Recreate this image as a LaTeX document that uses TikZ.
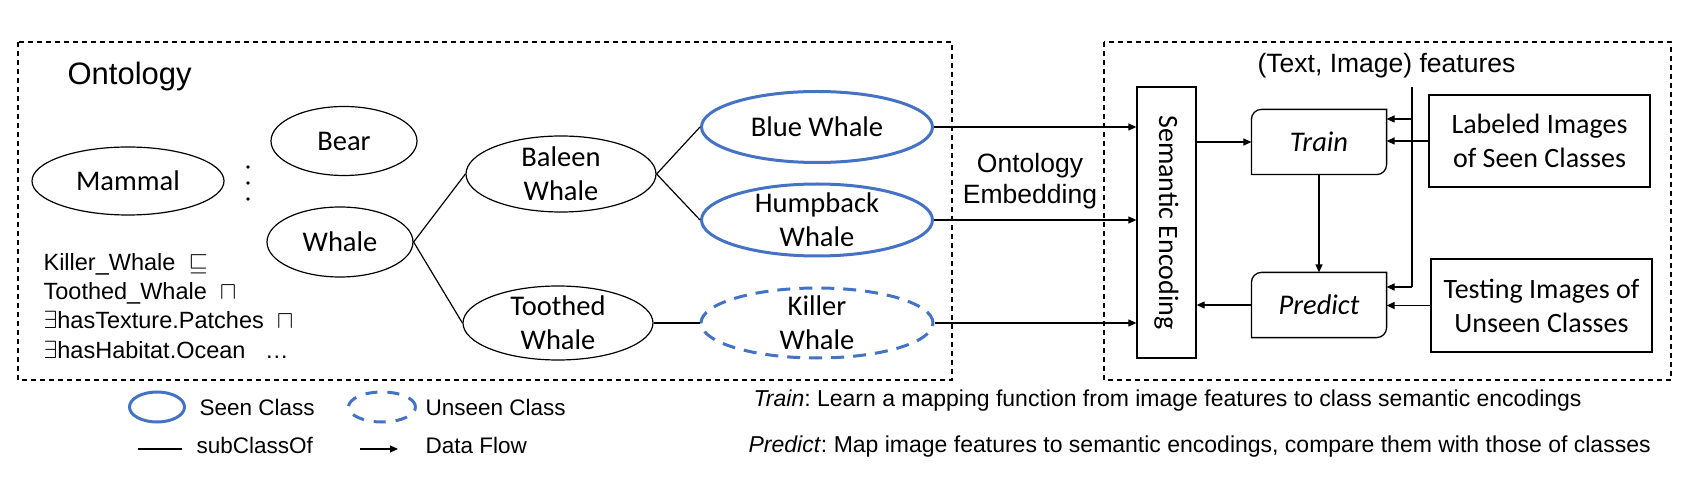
\documentclass[tikz,border=0pt]{standalone}
\usepackage{fontspec}
\usepackage{graphicx}
\setmainfont{Liberation Sans}
\newfontfamily\calibri{Carlito}
\usetikzlibrary{shapes.geometric,arrows.meta}
\definecolor{seenblue}{RGB}{68,114,196}
\frenchspacing
\begin{document}
\begin{tikzpicture}[x=1pt,y=1pt,
  line width=1.2pt,
  cls/.style={ellipse, draw, line width=1.2pt, inner xsep=0pt, inner ysep=-4pt, font=\calibri\fontsize{28.5}{34}\selectfont, align=center},
  seen/.style={cls, draw=seenblue, line width=3pt},
  unseen/.style={cls, draw=seenblue, line width=3pt, dash pattern=on 13pt off 9pt},
  sub/.style={line width=1.2pt},
  flow/.style={line width=1.2pt, -{Triangle[length=8pt,width=7pt]}},
  box/.style={rectangle, draw, line width=1.3pt, inner sep=0pt, font=\calibri\fontsize{28}{34}\selectfont, align=center},
  stepbox/.style={rectangle, inner sep=0pt, minimum width=134pt, minimum height=64pt, font=\calibri\itshape\fontsize{28.5}{34}\selectfont},
  frame/.style={draw, line width=1.2pt, dash pattern=on 5pt off 4pt},
  txt/.style={inner sep=0pt, anchor=base west},
]
\useasboundingbox (0,0) rectangle (1692,-494);

% frames
\draw[frame] (18,-42) rectangle (952,-380);
\draw[frame] (1104,-42) rectangle (1671,-380);

% ontology
\node[txt, font=\fontsize{31}{36}\selectfont] (ont) at (67,-85) {Ontology};
\node[cls, minimum width=192pt, minimum height=68pt] (mammal) at (128,-181) {Mammal};
\node[cls, minimum width=146pt, minimum height=69pt] (bear) at (344,-141) {Bear};
\node[cls, minimum width=146pt, minimum height=70pt] (whale) at (340,-242) {Whale};
\node[cls, minimum width=190pt, minimum height=76pt] (baleen) at (561,-174) {Baleen\\Whale};
\node[cls, minimum width=190pt, minimum height=74pt] (toothed) at (558,-323) {Toothed\\Whale};
\node[seen, minimum width=231pt, minimum height=71pt] (blue) at (817,-127) {Blue Whale};
\node[seen, minimum width=231pt, minimum height=72pt] (hump) at (817,-220) {Humpback\\Whale};
\node[unseen, minimum width=232pt, minimum height=70pt] (killer) at (817,-323) {Killer\\Whale};

\foreach \y in {167,183,199} \fill (248,-\y) circle (1.8pt);

\draw[sub] (whale.east) -- (baleen.west);
\draw[sub] (whale.east) -- (toothed.west);
\draw[sub] (baleen.east) -- (blue.west);
\draw[sub] (baleen.east) -- (hump.west);
\draw[sub] (toothed.east) -- (killer.west);

% axioms
\node[txt, font=\fontsize{23.5}{29}\selectfont] (ax1) at (43,-271) {Killer\_Whale \ $\sqsubseteq$};
\node[txt, font=\fontsize{23.5}{29}\selectfont] (ax2) at (43,-300) {Toothed\_Whale \ $\sqcap$};
\node[txt, font=\fontsize{23.5}{29}\selectfont] (ax3) at (43,-329) {$\exists$hasTexture.Patches \ $\sqcap$};
\node[txt, font=\fontsize{23.5}{29}\selectfont] (ax4) at (43,-359) {$\exists$hasHabitat.Ocean \ \ …};

% embedding
\node[font=\fontsize{26.5}{31}\selectfont, align=center, inner sep=0pt] (emb) at (1030,-181) {Ontology\\Embedding};

% semantic encoding
\node[box, minimum width=59pt, minimum height=271pt] (se) at (1166.5,-222.5) {\rotatebox{-90}{Semantic Encoding}};
\draw[flow] (blue.east) -- (blue.east -| se.west);
\draw[flow] (hump.east) -- (hump.east -| se.west);
\draw[flow] (killer.east) -- (killer.east -| se.west);

% train / predict
\node[stepbox] (train) at (1319,-142) {Train};
\node[stepbox] (predict) at (1319,-305) {Predict};
\foreach \n in {train,predict}
  \draw[line width=1.3pt] (\n.south west) -- ([yshift=-10pt]\n.north west) arc[start angle=180,end angle=90,radius=10pt] -- (\n.north east) -- ([yshift=10pt]\n.south east) arc[start angle=0,end angle=-90,radius=10pt] -- cycle;

\draw[flow] (se.east |- train.west) -- (train.west);
\draw[flow] (train.south) -- (predict.north);
\draw[flow] (predict.west) -- (predict.west -| se.east);

\node[box, minimum width=221pt, minimum height=92pt] (lab) at (1539.5,-141) {Labeled Images\\of Seen Classes};
\node[box, minimum width=221pt, minimum height=93pt] (test) at (1541.5,-305.5) {Testing Images of\\Unseen Classes};
\draw[flow] (lab.west) -- (lab.west -| train.east);
\draw[flow] (test.west) -- (test.west -| predict.east);

\node[font=\fontsize{26.5}{31}\selectfont, anchor=base, inner sep=0pt] (feat) at (1386.5,-73) {(Text,\ Image) features};
\coordinate (ftop) at (1412,-87);
\coordinate (f1) at (1412,-119);
\coordinate (f2) at (1412,-287);
\draw[sub] (ftop) -- (f2);
\draw[flow] (f1) -- (f1 -| train.east);
\draw[flow] (f2) -- (f2 -| predict.east);

% legend
\node[seen, minimum width=55pt, minimum height=30pt] (lseen) at (157,-407) {};
\node[txt, font=\fontsize{22.5}{27}\selectfont] (tseen) at (199,-415) {Seen Class};
\node[unseen, minimum width=67pt, minimum height=30pt, dash pattern=on 12pt off 10pt] (lunseen) at (382,-407) {};
\node[txt, font=\fontsize{22.5}{27}\selectfont] (tunseen) at (425,-415) {Unseen Class};
\coordinate (s1) at (138,-449);
\coordinate (s2) at (182,-449);
\draw[sub] (s1) -- (s2);
\node[txt, font=\fontsize{22.5}{27}\selectfont] (tsub) at (196,-453) {subClassOf};
\coordinate (d1) at (360,-449);
\coordinate (d2) at (398,-449);
\draw[flow] (d1) -- (d2);
\node[txt, font=\fontsize{22.5}{27}\selectfont] (tflow) at (425,-453) {Data Flow};

% notes
\node[txt, font=\fontsize{23}{28}\selectfont] (ntrain) at (753,-406) {\textit{Train}: Learn a mapping function from image features to class semantic encodings};
\node[txt, font=\fontsize{23}{28}\selectfont] (npred) at (748,-452) {\textit{Predict}: Map image features to semantic encodings, compare them with those of classes};
\end{tikzpicture}
\end{document}
